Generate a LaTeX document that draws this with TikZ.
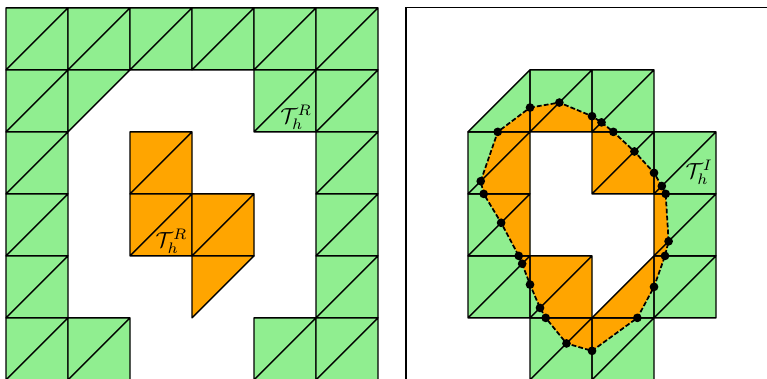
\documentclass[tikz,border=0pt]{standalone}
\usetikzlibrary{calc}
\definecolor{outgreen}{RGB}{144,238,144}
\definecolor{inorange}{RGB}{255,165,0}
\tikzset{
    meshline/.style = {draw=black, line width=0.6pt, line join=round},
    greencell/.style = {meshline, fill=outgreen},
    orangecell/.style = {meshline, fill=inorange},
    cutline/.style = {draw=black, line width=0.8pt, dash pattern=on 2.2pt off 1pt},
    cutpt/.style = {circle, fill=black, inner sep=0pt, minimum size=4pt},
    meshlabel/.style = {font=\normalsize, inner sep=0pt}
}

\begin{document}
\begin{tikzpicture}
\useasboundingbox (-0.097,0.03) rectangle (12.274,6.127);
\clip (-0.097,0.03) rectangle (12.274,6.127);

% Left panel: outer cells
\foreach \i/\j in {0/5,1/5,2/5,3/5,4/5,5/5,0/4,4/4,5/4,0/3,5/3,0/2,5/2,0/1,5/1,0/0,1/0,4/0,5/0}
    \filldraw[greencell] (\i,\j) rectangle ++(1,1) (\i,\j) -- ++(1,1);
\filldraw[greencell] (1,4) -- (1,5) -- (2,5) -- cycle;

% Left panel: inner cells
\foreach \i/\j in {2/3,2/2,3/2}
    \filldraw[orangecell] (\i,\j) rectangle ++(1,1) (\i,\j) -- ++(1,1);
\filldraw[orangecell] (3,1) -- (3,2) -- (4,2) -- cycle;

\node[meshlabel] (labOut) at (4.68,4.24) {$\mathcal{T}_h^R$};
\node[meshlabel] (labIn) at (2.67,2.23) {$\mathcal{T}_h^R$};

% Right panel: cut cells
\begin{scope}[xshift=6.4516cm]
\draw[line width=0.5pt] (0,0) -- (0,6) -- (6,6);

% intersection points of the curve with the mesh
\foreach \x/\y [count=\k] in {2.000/4.392, 2.473/4.473, 3.000/4.253, 3.153/4.153,
    3.344/4.000, 3.684/3.684, 4.000/3.339, 4.126/3.126, 4.188/3.000, 4.235/2.235,
    4.177/2.000, 4.000/1.500, 3.731/1.000, 3.000/0.468, 2.588/0.588, 2.253/1.000,
    2.161/1.161, 2.000/1.537, 1.873/1.873, 1.818/2.000, 1.534/2.534, 1.253/3.000,
    1.205/3.205, 1.479/4.000}
    \coordinate (c\k) at (\x,\y);

\fill[outgreen, even odd rule] (1,4) -- (2,5) -- (4,5) -- (4,4) -- (5,4) -- (5,1) -- (4,1)
    -- (4,0) -- (2,0) -- (2,1) -- (1,1) -- cycle
    (2,4) -- (3,4) -- (3,3) -- (4,3) -- (4,2) -- (3,1) -- (3,2) -- (2,2) -- cycle;

\begin{scope}[even odd rule]
\clip (1,4) -- (2,5) -- (4,5) -- (4,4) -- (5,4) -- (5,1) -- (4,1)
    -- (4,0) -- (2,0) -- (2,1) -- (1,1) -- cycle
    (2,4) -- (3,4) -- (3,3) -- (4,3) -- (4,2) -- (3,1) -- (3,2) -- (2,2) -- cycle;
\fill[inorange] (c1) \foreach \k in {2,...,24} { -- (c\k) } -- cycle;
\end{scope}

\foreach \i/\j in {2/4,3/4,1/3,3/3,4/3,1/2,4/2,1/1,2/1,4/1,2/0,3/0}
    \draw[meshline] (\i,\j) rectangle ++(1,1) (\i,\j) -- ++(1,1);
\draw[meshline] (1,4) -- (2,4) -- (2,5) -- cycle;
\draw[meshline] (3,1) -- (4,1) -- (4,2) -- cycle;

\draw[cutline] (c1) \foreach \k in {2,...,24} { -- (c\k) } -- cycle;
\foreach \k in {1,...,24}
    \node[cutpt] (d\k) at (c\k) {};

\node[meshlabel] (labCut) at (4.73,3.35) {$\mathcal{T}_h^I$};
\end{scope}
\end{tikzpicture}
\end{document}
